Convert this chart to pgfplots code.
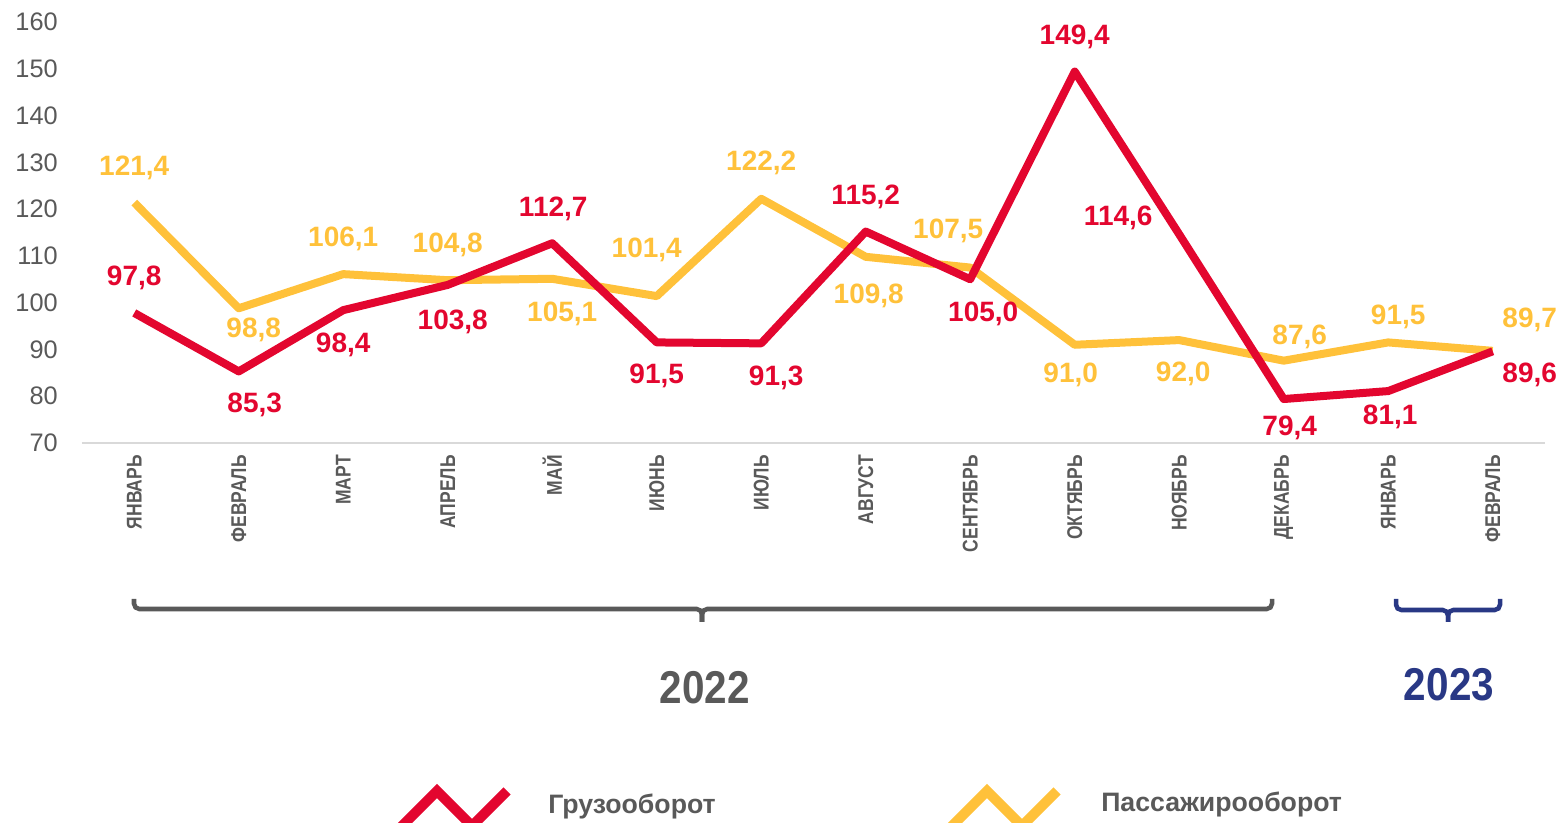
\documentclass[border=0pt]{standalone}
\usepackage{pgfplots}
\pgfplotsset{compat=1.18}
\usepackage{pgfplotstable}
\usepackage{fontspec}
\setmainfont{Liberation Sans}
\newfontfamily\narrowfont[FakeStretch=0.82]{Liberation Sans}
\newfontfamily\yearfont[FakeStretch=0.88]{Liberation Sans}
\definecolor{cred}{RGB}{227,6,47}
\definecolor{cyel}{RGB}{255,193,58}
\definecolor{tgray}{RGB}{89,89,89}
\definecolor{cblue}{RGB}{41,56,133}

\pgfplotstableread{
x y dx dy
0 97.8 0 35
1 85.3 16 -33
2 98.4 0 -35
3 103.8 5 -37
4 112.7 1 34
5 91.5 0 -33
6 91.3 15 -35
7 115.2 0 35
8 105.0 13 -35
9 149.4 0 35
10 114.6 -61 16
11 79.4 6 -29
12 81.1 2 -26
13 89.6 37 -24
}\gruz

\pgfplotstableread{
x y dx dy
0 121.4 0 35
1 98.8 15 -22
2 106.1 0 35
3 104.8 0 35
4 105.1 10 -35
5 101.4 -10 46
6 122.2 0 36
7 109.8 3 -39
8 107.5 -22 37
9 91.0 -4 -30
10 92.0 4 -34
11 87.6 16 24
12 91.5 10 26
13 89.7 37 31
}\pass

\begin{document}
\begin{tikzpicture}
\begin{axis}[
  scale only axis, width=1097.25pt, height=315.75pt,
  xmin=-0.5, xmax=13.5, ymin=70, ymax=160,
  axis x line*=bottom, axis y line*=left,
  x axis line style={-, draw=black!15, line width=1.5pt},
  y axis line style={draw=none},
  ytick={70,80,...,160},
  xtick={0,...,13},
  xticklabels={ЯНВАРЬ,ФЕВРАЛЬ,МАРТ,АПРЕЛЬ,МАЙ,ИЮНЬ,ИЮЛЬ,АВГУСТ,СЕНТЯБРЬ,ОКТЯБРЬ,НОЯБРЬ,ДЕКАБРЬ,ЯНВАРЬ,ФЕВРАЛЬ},
  major tick length=0pt,
  /pgf/number format/assume math mode=true,
  yticklabel style={font=\fontsize{19}{19}\selectfont, text=tgray, anchor=east, inner sep=0pt, xshift=-18pt},
  xticklabel style={font=\narrowfont\bfseries\fontsize{16}{16}\selectfont, text=tgray, yshift=-9pt, rotate=90, anchor=east, inner sep=0pt},
  clip=false,
  nodes near coords={\pgfmathprintnumber[fixed,fixed zerofill,precision=1,use comma,assume math mode=true]{\pgfplotspointmeta}},
  visualization depends on={\thisrow{dx} \as \dx},
  visualization depends on={\thisrow{dy} \as \dy},
]
\addplot[cyel, line width=6pt, line join=round, mark=none,
  every node near coord/.append style={font=\bfseries\fontsize{21}{21}\selectfont, text=cyel, anchor=center, inner sep=0pt, xshift={\dx*0.75pt}, yshift={\dy*0.75pt}}]
  table[x=x,y=y]{\pass};
\addplot[cred, line width=6pt, line join=round, mark=none,
  every node near coord/.append style={font=\bfseries\fontsize{21}{21}\selectfont, text=cred, anchor=center, inner sep=0pt, xshift={\dx*0.75pt}, yshift={\dy*0.75pt}}]
  table[x=x,y=y]{\gruz};
\end{axis}

\node[text=tgray, font=\yearfont\bfseries\fontsize{34.5}{34.5}\selectfont] at (467.25pt,-183.75pt) {2022};
\node[text=cblue, font=\yearfont\bfseries\fontsize{34.5}{34.5}\selectfont] at (1025.25pt,-181.5pt) {2023};

\begin{scope}[x=0.75pt, y=-0.75pt, shift={(-61.5pt,332.25pt)}]
  % braces
  \draw[tgray, line width=3.4pt, rounded corners=4pt] (134,599) -- (134,609) -- (702,609) -- (702,622);
  \draw[tgray, line width=3.4pt, rounded corners=4pt] (1272,599) -- (1272,609) -- (702,609) -- (702,622);
  \draw[cblue, line width=3.4pt, rounded corners=4pt] (1396,599) -- (1396,610) -- (1448,610) -- (1448,622);
  \draw[cblue, line width=3.4pt, rounded corners=4pt] (1500,599) -- (1500,610) -- (1448,610) -- (1448,622);
  % legend
  \draw[cred, line width=7.5pt, line join=miter] (398,830) -- (437,791) -- (472,826) -- (507,791);
  \draw[cyel, line width=7.5pt, line join=miter] (948,830) -- (987,791) -- (1022,826) -- (1057,791);
  \node[anchor=west, inner sep=0pt, text=tgray, font=\bfseries\fontsize{20}{20}\selectfont] at (548,806) {Грузооборот};
  \node[anchor=west, inner sep=0pt, text=tgray, font=\bfseries\fontsize{20}{20}\selectfont] at (1101,804) {Пассажирооборот};
  \pgfresetboundingbox
  \path[use as bounding box] (0,0) rectangle (1566,823);
\end{scope}
\end{tikzpicture}
\end{document}
